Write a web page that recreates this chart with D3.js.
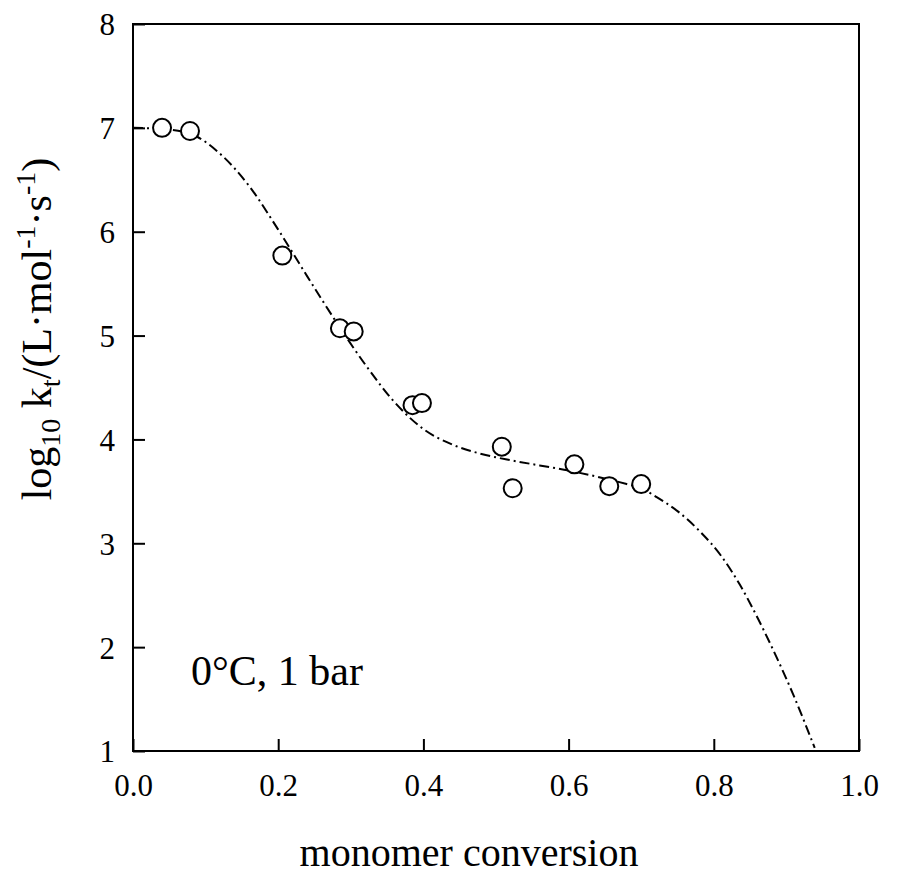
<!DOCTYPE html>
<html>
<head>
<meta charset="utf-8">
<script src="https://cdn.jsdelivr.net/npm/d3@7"></script>
<style>
  html, body { margin: 0; padding: 0; background: #fff; }
  svg { display: block; }
  svg text { font-family: "Liberation Serif", "Times New Roman", serif; }
</style>
</head>
<body>
<svg id="chart" width="900" height="874"></svg>
<script>
// Measured data points
const pointX = [0.040, 0.0785, 0.2057, 0.285, 0.304, 0.385, 0.398, 0.508, 0.523, 0.608, 0.656, 0.700];
const pointY = [7.00, 6.97, 5.77, 5.07, 5.04, 4.33, 4.35, 3.93, 3.53, 3.76, 3.55, 3.57];

// Fitted (dash-dot) curve
const curveX = [0.0, 0.04, 0.08, 0.12, 0.16, 0.20, 0.24, 0.28, 0.32, 0.36, 0.40, 0.44, 0.48, 0.52, 0.56, 0.60, 0.64, 0.68, 0.70, 0.72, 0.75, 0.78, 0.81, 0.836, 0.859, 0.882, 0.909, 0.939];
const curveY = [7.0, 6.99, 6.94, 6.75, 6.44, 6.02, 5.57, 5.13, 4.72, 4.36, 4.10, 3.95, 3.86, 3.80, 3.75, 3.70, 3.64, 3.57, 3.53, 3.45, 3.31, 3.12, 2.88, 2.60, 2.30, 1.97, 1.55, 1.03];

const xTicks = [0.0, 0.2, 0.4, 0.6, 0.8, 1.0];
const yTicks = [1, 2, 3, 4, 5, 6, 7, 8];
const xTitle = "monomer conversion";
const annotation = "0°C, 1 bar";

const svg = d3.select("#chart");
const mLeft = 133, mRight = 859, mTop = 24, mBottom = 751;
const serif = '"Liberation Serif", "Times New Roman", serif';

const x = d3.scaleLinear().domain([0, 1]).range([mLeft, mRight]);
const y = d3.scaleLinear().domain([1, 8]).range([mBottom, mTop]);

// Frame
svg.append("rect")
  .attr("x", mLeft).attr("y", mTop)
  .attr("width", mRight - mLeft).attr("height", mBottom - mTop)
  .attr("fill", "none").attr("stroke", "#000").attr("stroke-width", 2);

// X axis (inward ticks)
const xAxis = d3.axisBottom(x).tickValues(xTicks).tickSizeInner(-12).tickSizeOuter(0)
  .tickPadding(0).tickFormat(d3.format(".1f"));
const gx = svg.append("g").attr("transform", `translate(0,${mBottom})`).call(xAxis)
  .attr("font-family", serif).attr("font-size", 31);
gx.select(".domain").remove();
gx.selectAll(".tick line").attr("stroke", "#000").attr("stroke-width", 2);
gx.selectAll(".tick text")
  .attr("y", 45).attr("dy", null)
  .attr("font-size", 31).attr("fill", "#000");

// Y axis (inward ticks)
const yAxis = d3.axisLeft(y).tickValues(yTicks).tickSizeInner(-12).tickSizeOuter(0)
  .tickPadding(0).tickFormat(d3.format("d"));
const gy = svg.append("g").attr("transform", `translate(${mLeft},0)`).call(yAxis)
  .attr("font-family", serif).attr("font-size", 31);
gy.select(".domain").remove();
gy.selectAll(".tick line").attr("stroke", "#000").attr("stroke-width", 2);
gy.selectAll(".tick text")
  .attr("x", -18).attr("dy", "0.35em")
  .attr("font-size", 31).attr("fill", "#000");

// Curve
const line = d3.line()
  .x((d, i) => x(curveX[i]))
  .y((d, i) => y(curveY[i]))
  .curve(d3.curveMonotoneX);
svg.append("path")
  .attr("d", line(curveX))
  .attr("fill", "none").attr("stroke", "#000")
  .attr("stroke-width", 2)
  .attr("stroke-dasharray", "10,4,2,4");

// Points
svg.append("g").selectAll("circle")
  .data(pointX)
  .join("circle")
  .attr("cx", (d) => x(d))
  .attr("cy", (d, i) => y(pointY[i]))
  .attr("r", 9)
  .attr("fill", "#fff").attr("stroke", "#000").attr("stroke-width", 2);

// Annotation
svg.append("text")
  .attr("x", 191).attr("y", 685)
  .attr("font-size", 42).attr("fill", "#000")
  .text(annotation);

// X title
svg.append("text")
  .attr("x", 469).attr("y", 866)
  .attr("text-anchor", "middle")
  .attr("font-size", 40).attr("fill", "#000")
  .text(xTitle);

// Y title with sub/superscripts
const yt = svg.append("text")
  .attr("transform", "translate(51,329) rotate(-90)")
  .attr("text-anchor", "middle")
  .attr("font-size", 42).attr("fill", "#000");
yt.append("tspan").text("log");
yt.append("tspan").attr("font-size", 28).attr("dy", 9).text("10");
yt.append("tspan").attr("dy", -9).text(" k");
yt.append("tspan").attr("font-size", 28).attr("dy", 9).text("t");
yt.append("tspan").attr("dy", -9).text("/(L·mol");
yt.append("tspan").attr("font-size", 28).attr("dy", -16).text("-1");
yt.append("tspan").attr("dy", 16).text("·s");
yt.append("tspan").attr("font-size", 28).attr("dy", -16).text("-1");
yt.append("tspan").attr("dy", 16).text(")");
</script>
</body>
</html>
